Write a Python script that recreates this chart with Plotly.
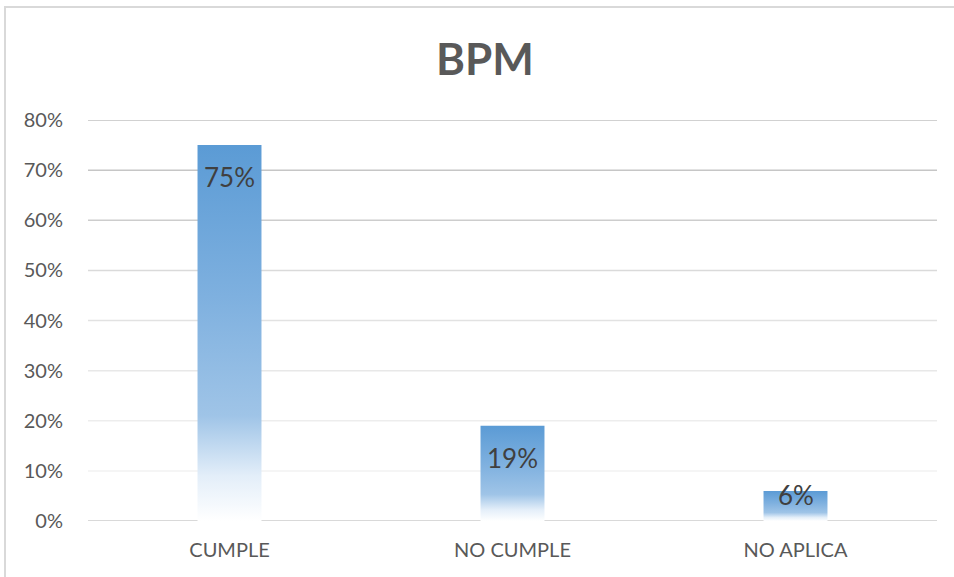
import plotly.graph_objects as go

# Chart content
title = "BPM"
categories = ["CUMPLE", "NO CUMPLE", "NO APLICA"]
shares = [0.75, 0.19, 0.06]
tick_values = [0.0, 0.1, 0.2, 0.3, 0.4, 0.5, 0.6, 0.7, 0.8]
tick_labels = ["0%", "10%", "20%", "30%", "40%", "50%", "60%", "70%", "80%"]

# Canvas / plot-area geometry
W, H = 954, 577
M_L, M_R, M_T, M_B = 88, 17, 120, 56
Y_MAX = 0.8
plot_w = W - M_L - M_R
plot_h = H - M_T - M_B
px_per_unit = plot_h / Y_MAX

BAR_HALF = 0.113
FONT = "Lato, Carlito, Calibri, sans-serif"

# Vertical gradient for the bars: pale at the base, accent blue at the top
bar_scale = [
    [0.0, "#FFFFFF"],
    [0.12, "#E3EEF9"],
    [0.28, "#9FC4E7"],
    [0.6, "#7EB0DF"],
    [1.0, "#5B9BD5"],
]

# Gridline greys get lighter towards the baseline
grid_colors = ["#D9D9D9", "#F2F2F2", "#EDEDED", "#E8E8E8", "#E2E2E2",
               "#DADADA", "#CDCDCD", "#C6C6C6", "#C2C2C2"]

fig = go.Figure()

for i, (cat, v) in enumerate(zip(categories, shares)):
    x0, x1 = i - BAR_HALF, i + BAR_HALF
    fig.add_trace(go.Scatter(
        x=[x0, x0, x1, x1, x0],
        y=[0, v, v, 0, 0],
        mode="lines",
        fill="toself",
        line=dict(width=0, color="rgba(0,0,0,0)"),
        fillgradient=dict(type="vertical", colorscale=bar_scale, start=0, stop=v),
        hoverinfo="skip",
        showlegend=False,
        name=cat,
    ))
    # value label just inside the top of the bar
    label_h = 26
    shift = min(32, v * px_per_unit - label_h)
    fig.add_annotation(
        x=i, y=v, xref="x", yref="y",
        text=f"{v:.0%}",
        showarrow=False,
        yanchor="middle",
        yshift=-shift,
        font=dict(family=FONT, size=26, color="#404040"),
    )

# Horizontal gridlines drawn under the bars
for tv, gc in zip(tick_values, grid_colors):
    fig.add_shape(
        type="line", xref="paper", yref="y",
        x0=0, x1=1, y0=tv, y1=tv,
        line=dict(color=gc, width=2 if tv == 0 else 1.5),
        layer="below",
    )

# Outer chart frame
fig.add_shape(
    type="rect", xref="paper", yref="paper",
    x0=(5 - M_L) / plot_w, x1=(W + 20 - M_L) / plot_w,
    y0=-(M_B + 20) / plot_h, y1=1 + (M_T - 7) / plot_h,
    line=dict(color="#D9D9D9", width=2),
    fillcolor="rgba(0,0,0,0)",
    layer="below",
)

fig.update_layout(
    width=W, height=H,
    margin=dict(l=M_L, r=M_R, t=M_T, b=M_B),
    paper_bgcolor="white",
    plot_bgcolor="white",
    title=dict(
        text=f"<b>{title}</b>",
        x=485 / W, xanchor="center",
        y=1 - 60 / H, yanchor="middle",
        font=dict(family=FONT, size=44, color="#595959"),
    ),
    xaxis=dict(
        range=[-0.5, 2.5],
        tickmode="array",
        tickvals=list(range(len(categories))),
        ticktext=categories,
        showgrid=False,
        zeroline=False,
        showline=False,
        ticks="",
        ticklabelstandoff=15,
        tickfont=dict(family=FONT, size=20, color="#595959"),
        fixedrange=True,
    ),
    yaxis=dict(
        range=[0, Y_MAX],
        tickmode="array",
        tickvals=tick_values,
        ticktext=tick_labels,
        showgrid=False,
        zeroline=False,
        showline=False,
        ticks="",
        ticklabelstandoff=24,
        tickfont=dict(family=FONT, size=20, color="#595959"),
        fixedrange=True,
    ),
    showlegend=False,
)

fig.write_html("out.html")
